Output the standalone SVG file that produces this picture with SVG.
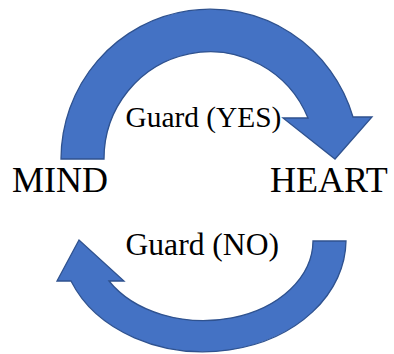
<svg xmlns="http://www.w3.org/2000/svg" width="394" height="354" viewBox="0 0 394 354">
<style>
.arrow{fill:#4472C4;stroke:#2F528F;stroke-width:1.3;stroke-linejoin:miter}
.lbl{font-family:"Liberation Serif","Times New Roman",serif;fill:#000}
</style>
<rect width="394" height="354" fill="#fff"/>
<g id="connectors">
<path id="yes-arrow" class="arrow" d="M61,159 A149,150 0 0 1 353,117 L372,117 L335,159 L283,118 L308,118 A106,107 0 0 0 104,159 Z"/>
<path id="no-arrow" class="arrow" d="M346,241 A142.5,112 0 0 1 71,281 L57,281 L79,240 L124,281 L109,281 A109.5,80 0 0 0 313,241 Z"/>
<text class="lbl" x="125.5" y="127" font-size="29.4">Guard (YES)</text>
<text class="lbl" x="125.5" y="255" font-size="31.6">Guard (NO)</text>
</g>
<g id="mind">
<text class="lbl" x="12" y="192" font-size="36">MIND</text>
</g>
<g id="heart">
<text class="lbl" x="270" y="192" font-size="36">HEART</text>
</g>
</svg>
